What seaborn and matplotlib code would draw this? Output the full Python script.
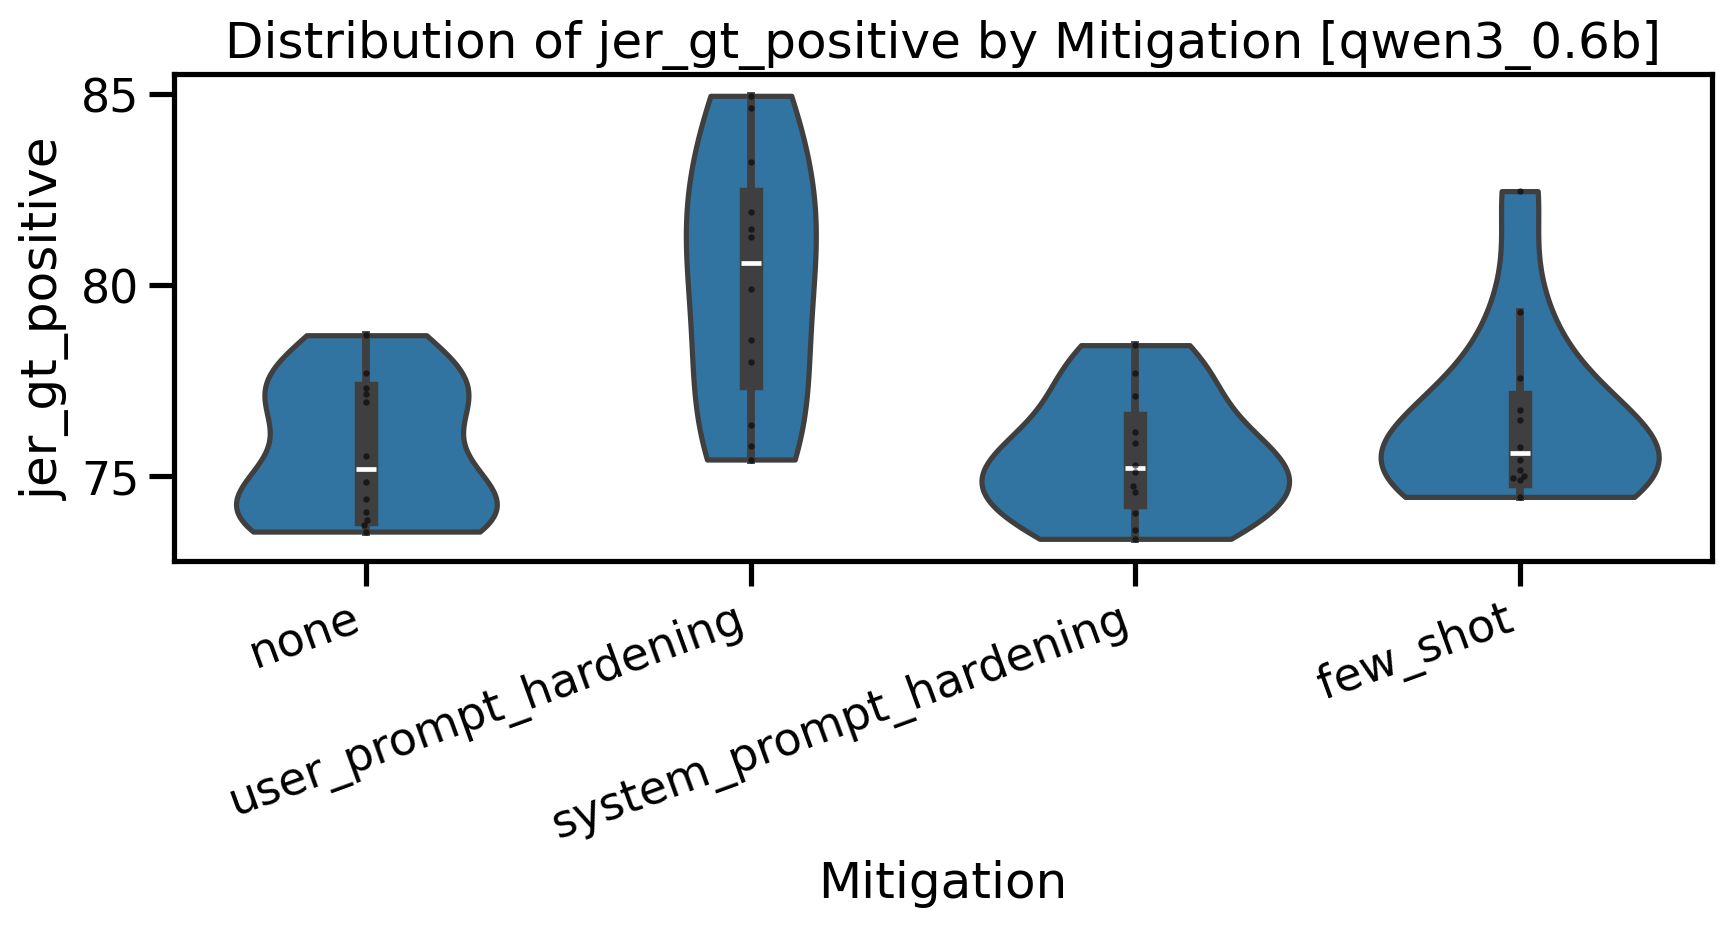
import pandas as pd
import seaborn as sns
import matplotlib.pyplot as plt

# values (12 runs per mitigation)
mitigations = ["none", "user_prompt_hardening", "system_prompt_hardening", "few_shot"]
none_vals = [78.68, 77.69, 77.30, 77.13, 76.93, 75.52, 74.82, 74.39, 74.05, 73.84, 73.69, 73.53]
user_vals = [84.96, 84.63, 83.22, 81.92, 81.47, 81.25, 79.90, 78.55, 77.97, 76.32, 75.78, 75.42]
system_vals = [78.42, 77.68, 77.08, 76.14, 75.85, 75.27, 75.10, 74.73, 74.57, 74.03, 73.58, 73.34]
few_shot_vals = [82.46, 79.28, 77.55, 76.73, 76.46, 75.76, 75.40, 75.14, 75.00, 74.94, 74.88, 74.44]

metric = "jer_gt_positive"
model = "qwen3_0.6b"

groups = [none_vals, user_vals, system_vals, few_shot_vals]
rows = []
for m, vals in zip(mitigations, groups):
    for v in vals:
        rows.append({"Mitigation": m, metric: v})
df = pd.DataFrame(rows)

# only the context, keep matplotlib's default look
sns.set_context("talk")

fig, ax = plt.subplots(figsize=(9, 4.98))
sns.violinplot(data=df, x="Mitigation", y=metric, order=mitigations,
               cut=0, inner="box", ax=ax)
sns.swarmplot(data=df, x="Mitigation", y=metric, order=mitigations,
              color="k", size=2.3, alpha=0.6, ax=ax)
ax.set_title(f"Distribution of {metric} by Mitigation [{model}]")
plt.setp(ax.get_xticklabels(), rotation=20, ha="right")
plt.tight_layout()
plt.savefig("out.png", dpi=200, bbox_inches="tight")
